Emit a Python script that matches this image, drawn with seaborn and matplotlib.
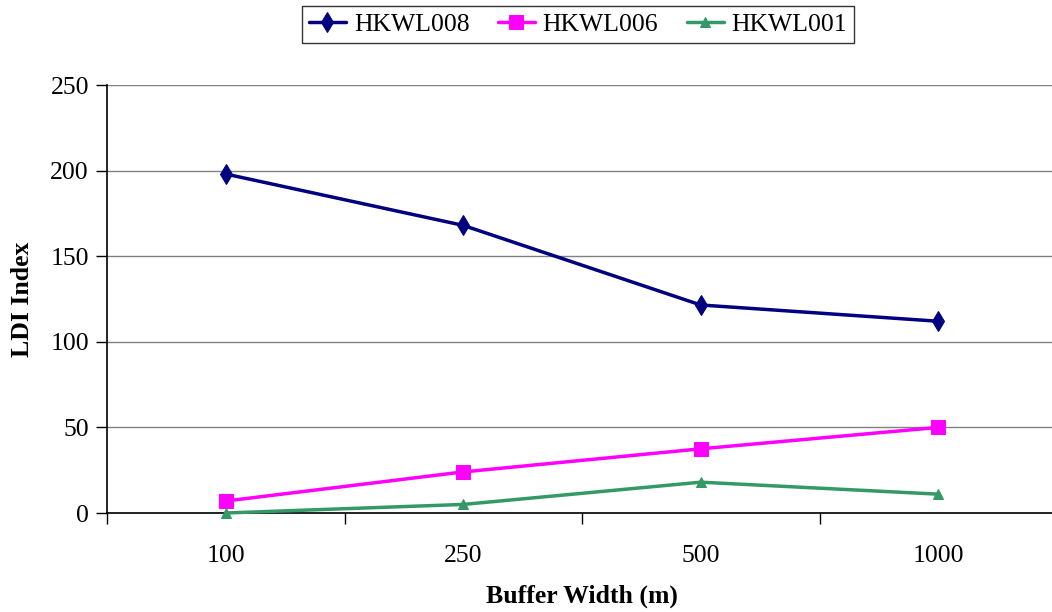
import matplotlib
matplotlib.use("Agg")
import matplotlib.pyplot as plt
import seaborn as sns
import pandas as pd
import numpy as np

categories = ["100", "250", "500", "1000"]
hkwl008 = [198, 168, 121.5, 112]
hkwl006 = [7, 24, 37.5, 50]
hkwl001 = [0, 5, 18, 11]
series_names = ["HKWL008", "HKWL006", "HKWL001"]

sns.set_theme(style="white")
plt.rcParams['font.family'] = ['Liberation Serif', 'DejaVu Serif']
plt.rcParams['text.color'] = 'black'
plt.rcParams['axes.labelcolor'] = 'black'
plt.rcParams['xtick.color'] = 'black'
plt.rcParams['ytick.color'] = 'black'

rows = []
for name, vals in zip(series_names, [hkwl008, hkwl006, hkwl001]):
    for i, v in enumerate(vals):
        rows.append({"pos": i, "Buffer": categories[i], "value": v, "series": name})
df = pd.DataFrame(rows)

fig = plt.figure(figsize=(10.52, 6.12), dpi=100)
ax = fig.add_axes([107/1052, 1-513/612, (1057-107)/1052, (513-85)/612])

colors = {"HKWL008": "#000080", "HKWL006": "#FF00FF", "HKWL001": "#339966"}
markers = {"HKWL008": "d", "HKWL006": "s", "HKWL001": "^"}
msizes = {"HKWL008": 10, "HKWL006": 9.5, "HKWL001": 7.5}

for name in series_names:
    sub = df[df.series == name]
    sns.lineplot(data=sub, x="pos", y="value", ax=ax, color=colors[name],
                 marker=markers[name], markersize=msizes[name], linewidth=2.5,
                 markeredgecolor=colors[name], label=name, zorder=3, clip_on=False)

ax.set_xlim(-0.5, 3.5)
ax.set_ylim(0, 250)
ax.set_yticks(np.arange(0, 251, 50))
ax.yaxis.grid(True, color="#808080", linewidth=1)
ax.xaxis.grid(False)
ax.set_axisbelow(True)

ax.set_xticks(range(len(categories)))
ax.set_xticklabels(categories, fontsize=18.5)
ax.set_xticks(np.arange(-0.5, 3.6, 1), minor=True)
ax.tick_params(axis="x", which="major", length=0, pad=23)
ax.tick_params(axis="x", which="minor", length=8, width=1, color="black", direction="out", bottom=True)
ax.tick_params(axis="y", which="major", length=8, width=1, color="black", direction="out", left=True, labelsize=18.5, pad=5)

for s in ["top", "right"]:
    ax.spines[s].set_visible(False)
ax.spines["left"].set_color("black")
ax.spines["bottom"].set_color("black")
ax.spines["left"].set_linewidth(1.2)
ax.spines["bottom"].set_linewidth(1.2)

ax.set_xlabel("Buffer Width (m)", fontsize=18.5, fontweight="bold", labelpad=13)
ax.set_ylabel("LDI Index", fontsize=18.5, fontweight="bold", labelpad=12)

leg = ax.legend(loc="upper center", bbox_to_anchor=(578/1052, 1-6/612), bbox_transform=fig.transFigure,
                ncol=3, frameon=True, fancybox=False, fontsize=18.5, handlelength=1.45,
                columnspacing=1.1, handletextpad=0.3, borderpad=0.28, borderaxespad=0,
                edgecolor="black")
leg.get_frame().set_linewidth(1)

fig.savefig("out.png", dpi=100)
